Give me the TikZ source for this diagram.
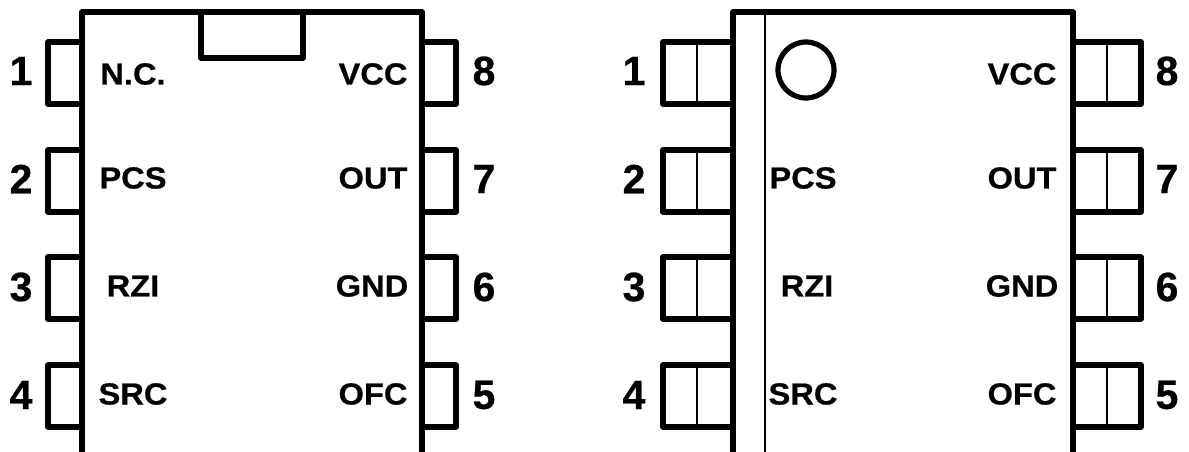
\documentclass[tikz,border=0pt]{standalone}
\usepackage{fontspec}
\setmainfont[BoldFeatures={FakeBold=0.6}]{Liberation Sans}
\tikzset{
  thick line/.style={line width=5.2pt,line join=round,line cap=round},
  thin line/.style={line width=1.8pt},
  sig/.style={font=\bfseries\fontsize{30.5}{30.5}\selectfont,inner sep=0pt,anchor=center,xscale=1.07},
  num/.style={font=\bfseries\fontsize{41}{41}\selectfont,inner sep=0pt,anchor=center},
}
\begin{document}
\begin{tikzpicture}[x=1pt,y=-1pt]
\useasboundingbox (0,0) rectangle (1189,452);
% left package
\draw[thick line,line cap=butt] (82,452) -- (82,12) -- (422,12) -- (422,452);
\draw[thick line] (201,12) -- (201,58) -- (303,58) -- (303,12);
\foreach \t in {42,150,257,365}{
  \draw[thick line] (82,\t) -- (48,\t) -- (48,\t+62) -- (82,\t+62);
  \draw[thick line] (422,\t) -- (456,\t) -- (456,\t+62) -- (422,\t+62);
}
% right package
\draw[thick line,line cap=butt] (733,452) -- (733,12) -- (1073,12) -- (1073,452);
\draw[thin line] (765,12) -- (765,452);
\draw[thick line] (806,70) circle (28);
\foreach \t in {42,150,257,365}{
  \draw[thick line] (733,\t) -- (663,\t) -- (663,\t+62) -- (733,\t+62);
  \draw[thin line] (697,\t) -- (697,\t+62);
  \draw[thick line] (1073,\t) -- (1141,\t) -- (1141,\t+62) -- (1073,\t+62);
  \draw[thin line] (1107,\t) -- (1107,\t+62);
}
% numbers
\node[num] (l1) at (21,71) {1};
\node[num] (l2) at (21,179) {2};
\node[num] (l3) at (21,287) {3};
\node[num] (l4) at (21,395) {4};
\node[num] (l8) at (484,71) {8};
\node[num] (l7) at (484,179) {7};
\node[num] (l6) at (484,287) {6};
\node[num] (l5) at (484,395) {5};
\node[num] (r1) at (634,71) {1};
\node[num] (r2) at (634,179) {2};
\node[num] (r3) at (634,287) {3};
\node[num] (r4) at (634,395) {4};
\node[num] (r8) at (1167,71) {8};
\node[num] (r7) at (1167,179) {7};
\node[num] (r6) at (1167,287) {6};
\node[num] (r5) at (1167,395) {5};
% labels
\node[sig] (a1) at (133,74) {N.C.};
\node[sig] (a2) at (133,178) {PCS};
\node[sig] (a3) at (133,286) {RZI};
\node[sig] (a4) at (133,394) {SRC};
\node[sig] (a8) at (373,74) {VCC};
\node[sig] (a7) at (373,178) {OUT};
\node[sig] (a6) at (372,286) {GND};
\node[sig] (a5) at (373,394) {OFC};
\node[sig] (b2) at (803,178) {PCS};
\node[sig] (b3) at (807,286) {RZI};
\node[sig] (b4) at (803,394) {SRC};
\node[sig] (b8) at (1022,74) {VCC};
\node[sig] (b7) at (1022,178) {OUT};
\node[sig] (b6) at (1022,286) {GND};
\node[sig] (b5) at (1022,394) {OFC};
\end{tikzpicture}
\end{document}
